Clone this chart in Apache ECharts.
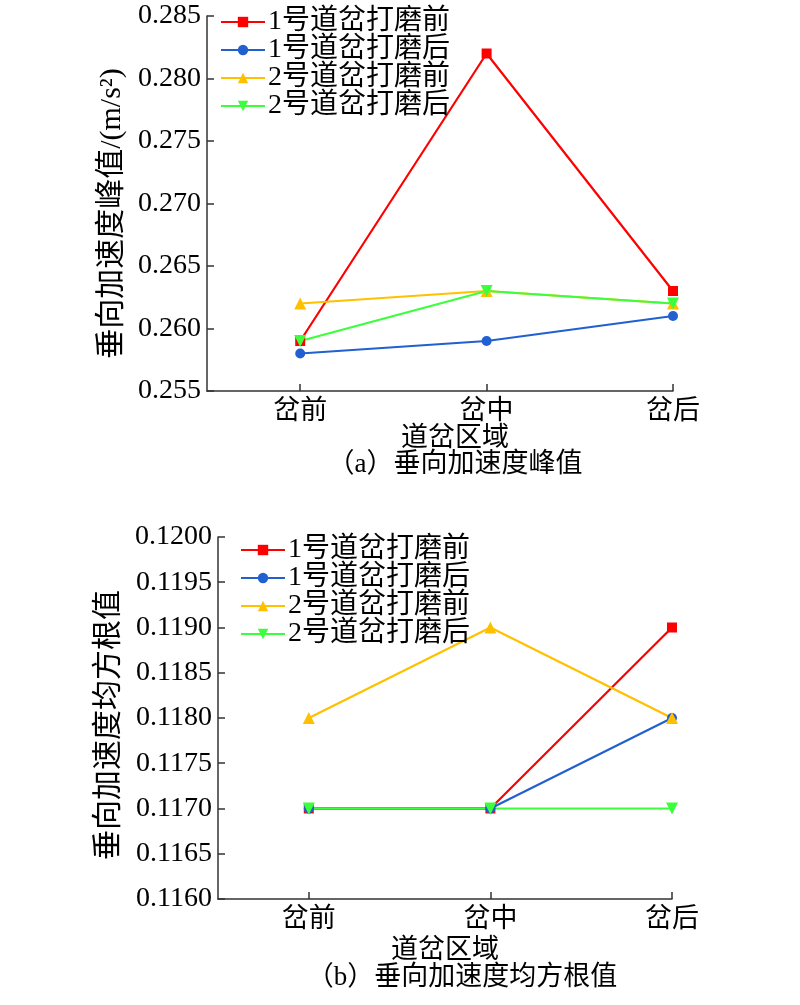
<!DOCTYPE html>
<html><head><meta charset="utf-8">
<script src="https://cdn.jsdelivr.net/npm/echarts@6/dist/echarts.min.js"></script>
<style>html,body{margin:0;padding:0;background:#fff}#c{width:800px;height:1005px}</style>
</head><body><div id="c"></div>
<script>
const categories = ['岔前', '岔中', '岔后'];
const seriesNames = ['1号道岔打磨前', '1号道岔打磨后', '2号道岔打磨前', '2号道岔打磨后'];
// (a) peak vertical acceleration
const peak1Before = [0.259, 0.282, 0.263];
const peak1After  = [0.258, 0.259, 0.261];
const peak2Before = [0.262, 0.263, 0.262];
const peak2After  = [0.259, 0.263, 0.262];
// (b) RMS vertical acceleration
const rms1Before = [0.1170, 0.1170, 0.1190];
const rms1After  = [0.1170, 0.1170, 0.1180];
const rms2Before = [0.1180, 0.1190, 0.1180];
const rms2After  = [0.1170, 0.1170, 0.1170];
const peakTicks = [0.255, 0.260, 0.265, 0.270, 0.275, 0.280, 0.285];
const rmsTicks = [0.1160, 0.1165, 0.1170, 0.1175, 0.1180, 0.1185, 0.1190, 0.1195, 0.1200];

const colors = ['#ff0000', '#2060d0', '#ffc000', '#3cff3c'];
const symbols = ['rect', 'circle', 'triangle', 'path://M0,0 L10,0 L5,9 Z'];
const symSizes = [10, 10, 12, 12];
const FONT = "'Liberation Serif', 'Noto Sans CJK SC', serif";
const FS = 27;

const chart = echarts.init(document.getElementById('c'));
const toPts = arr => arr.map((v, i) => [i, v]);

function xAxisCfg(gi, nameOffset, gap) {
  return {
    type: 'value', gridIndex: gi, min: -0.5, max: 2,
    name: '道岔区域', nameLocation: 'middle', nameGap: gap,
    nameTextStyle: { fontFamily: FONT, fontSize: FS, color: '#000', padding: [0, 0, 0, nameOffset] },
    axisLine: { onZero: false, lineStyle: { color: '#333', width: 1.5 } },
    axisTick: { customValues: [0, 1, 2], inside: true, length: 7, lineStyle: { color: '#333', width: 1.5 } },
    axisLabel: { customValues: [0, 1, 2], formatter: v => categories[Math.round(v)], fontFamily: FONT, fontSize: FS, color: '#000', margin: 7 },
    splitLine: { show: false }
  };
}
function yAxisCfg(gi, ticks, dec, name, gap, pad) {
  return {
    type: 'value', gridIndex: gi, min: ticks[0], max: ticks[ticks.length - 1],
    interval: ticks[1] - ticks[0],
    name: name, nameLocation: 'middle', nameGap: gap,
    nameTextStyle: { fontFamily: FONT, fontSize: 30, color: '#000', padding: pad },
    axisLine: { show: true, onZero: false, lineStyle: { color: '#333', width: 1.5 } },
    axisTick: { show: true, inside: true, length: 7, lineStyle: { color: '#333', width: 1.5 } },
    axisLabel: { formatter: v => v.toFixed(dec), fontFamily: FONT, fontSize: 28, color: '#000', margin: 6 },
    splitLine: { show: false }
  };
}
function mk(name, idx, data, gi) {
  return {
    type: 'line', name: name, xAxisIndex: gi, yAxisIndex: gi,
    data: toPts(data), symbol: symbols[idx], symbolSize: symSizes[idx],
    lineStyle: { color: colors[idx], width: 2.2 },
    itemStyle: { color: colors[idx] }, color: colors[idx],
    animation: false
  };
}
const legendBase = {
  orient: 'vertical', itemWidth: 44, itemHeight: 13, itemGap: 0,
  textStyle: { fontFamily: FONT, fontSize: 28, color: '#000', padding: [0, 0, 0, -2] },
  data: seriesNames
};

chart.setOption({
  animation: false,
  grid: [
    { left: 207, top: 16, width: 466, height: 375 },
    { left: 218, top: 537, width: 454, height: 362 }
  ],
  legend: [
    Object.assign({}, legendBase, { left: 215, top: 3 }),
    Object.assign({}, legendBase, { left: 235, top: 531 })
  ],
  xAxis: [xAxisCfg(0, 30, 32), xAxisCfg(1, 0, 38)],
  yAxis: [
    yAxisCfg(0, peakTicks, 3, '垂向加速度峰值/(m/s²)', 73, [0, 20, 0, 0]),
    yAxisCfg(1, rmsTicks, 4, '垂向加速度均方根值', 83, [0, 14, 0, 0])
  ],
  series: [
    mk(seriesNames[0], 0, peak1Before, 0),
    mk(seriesNames[1], 1, peak1After, 0),
    mk(seriesNames[2], 2, peak2Before, 0),
    mk(seriesNames[3], 3, peak2After, 0),
    mk(seriesNames[0], 0, rms1Before, 1),
    mk(seriesNames[1], 1, rms1After, 1),
    mk(seriesNames[2], 2, rms2Before, 1),
    mk(seriesNames[3], 3, rms2After, 1)
  ],
  graphic: [
    { type: 'text', x: 455, y: 451, style: { text: '（a）垂向加速度峰值', font: FS + "px " + FONT, fill: '#000', textAlign: 'center', textVerticalAlign: 'top' } },
    { type: 'text', x: 462, y: 964, style: { text: '（b）垂向加速度均方根值', font: FS + "px " + FONT, fill: '#000', textAlign: 'center', textVerticalAlign: 'top' } }
  ]
});
</script>
</body></html>
